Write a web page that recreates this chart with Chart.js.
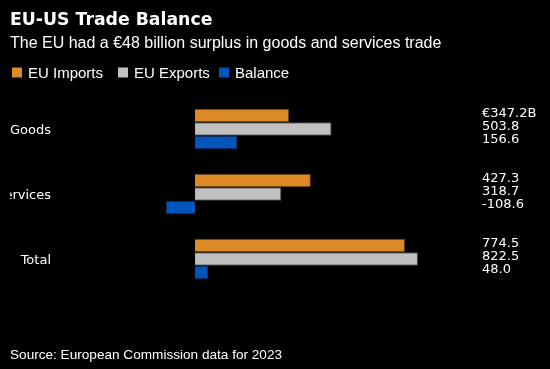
<!DOCTYPE html>
<html>
<head>
<meta charset="utf-8">
<script src="https://cdn.jsdelivr.net/npm/chart.js@4/dist/chart.umd.min.js"></script>
<style>
  html, body { margin: 0; padding: 0; background: #000; }
  #wrap { width: 550px; height: 369px; position: relative; }
</style>
</head>
<body>
<div id="wrap"><canvas id="tradeChart" width="550" height="369"></canvas></div>
<script>
const categories = ['Goods', 'Services', 'Total'];
const euImports = [347.2, 427.3, 774.5];
const euExports = [503.8, 318.7, 822.5];
const balance = [156.6, -108.6, 48.0];
const seriesNames = ['EU Imports', 'EU Exports', 'Balance'];

const fills = ['#DC8A28', '#C0C0C0', '#0055BB'];
const borders = ['#6e4516', '#4a4a4a', '#0b2d63'];

function fmt(v, first) {
    const s = v.toFixed(1);
    return first ? '\u20AC' + s + 'B' : s;
}

const textPlugin = {
    id: 'texts',
    afterDraw(chart) {
        const ctx = chart.ctx;
        ctx.save();
        ctx.fillStyle = '#fff';
        ctx.textAlign = 'left';
        ctx.textBaseline = 'alphabetic';

        ctx.font = 'bold 17.3px "DejaVu Sans"';
        ctx.fillText('EU-US Trade Balance', 10, 25);
        ctx.font = '16px "Liberation Sans"';
        ctx.fillText('The EU had a \u20AC48 billion surplus in goods and services trade', 10, 48);

        // legend
        const legendX = [12, 118, 219];
        ctx.font = '15px "Liberation Sans"';
        seriesNames.forEach((name, i) => {
            ctx.fillStyle = fills[i];
            ctx.fillRect(legendX[i], 67.5, 10, 10);
            ctx.fillStyle = '#fff';
            ctx.fillText(name, legendX[i] + 16, 78);
        });

        ctx.font = '13.6px "Liberation Sans"';
        ctx.fillText('Source: European Commission data for 2023', 10, 359);

        // category labels, clipped on the left like the original
        const yScale = chart.scales.y;
        ctx.save();
        ctx.beginPath();
        ctx.rect(10, 0, 540, 369);
        ctx.clip();
        ctx.font = '13px "DejaVu Sans"';
        ctx.textAlign = 'right';
        categories.forEach((c, i) => {
            ctx.fillText(c, 51, yScale.getPixelForValue(i) + 4.5);
        });
        ctx.restore();

        // value labels
        ctx.font = '13px "DejaVu Sans"';
        ctx.textAlign = 'left';
        chart.data.datasets.forEach((ds, di) => {
            const meta = chart.getDatasetMeta(di);
            meta.data.forEach((bar, i) => {
                const first = i === 0 && di === 0;
                ctx.fillText(fmt(ds.data[i], first), 482, bar.y + 1);
            });
        });
        ctx.restore();
    }
};

const ctx1 = document.getElementById('tradeChart').getContext('2d');
const tradeChart = new Chart(ctx1, {
    type: 'bar',
    data: {
        labels: categories,
        datasets: [euImports, euExports, balance].map((d, i) => ({
            label: seriesNames[i],
            data: d,
            backgroundColor: fills[i],
            borderColor: borders[i],
            borderWidth: 1,
            barPercentage: 1,
            categoryPercentage: 0.62
        }))
    },
    options: {
        indexAxis: 'y',
        responsive: false,
        animation: false,
        layout: {
            padding: { top: 96.5, bottom: 77.5, left: 162.5, right: 130 }
        },
        scales: {
            x: { display: false, min: -120, max: 830 },
            y: { display: false }
        },
        plugins: {
            legend: { display: false },
            title: { display: false },
            tooltip: { enabled: false }
        }
    },
    plugins: [textPlugin]
});
</script>
</body>
</html>
